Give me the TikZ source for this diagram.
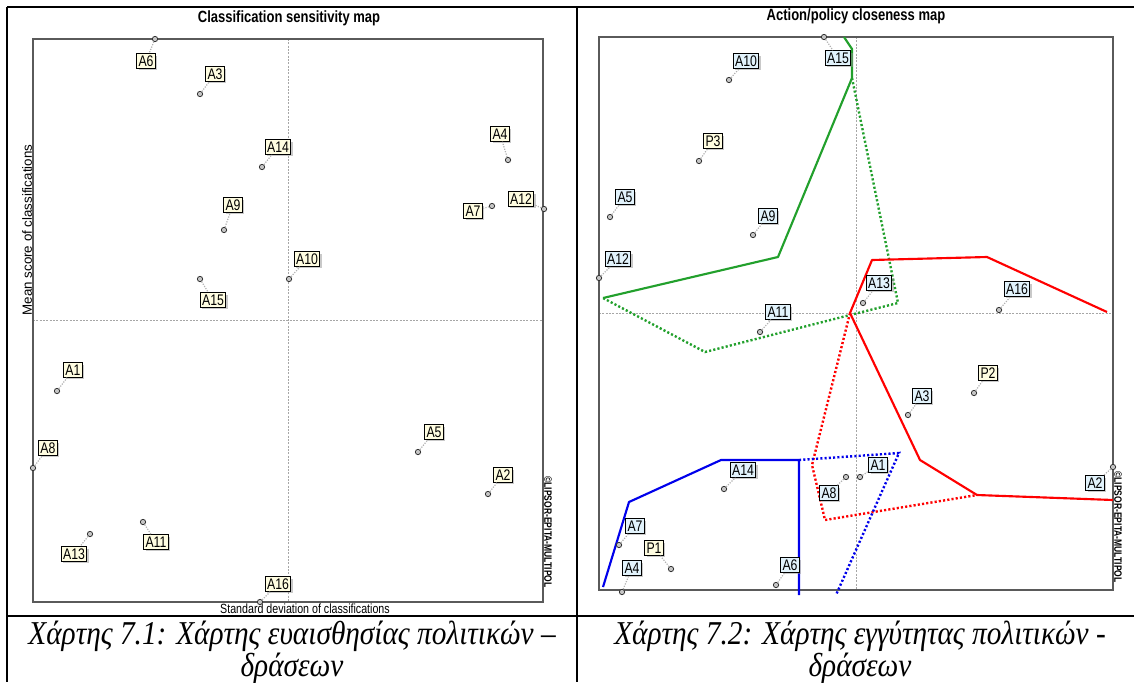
\documentclass[tikz,border=0pt]{standalone}
\usepackage{fontspec}
\setmainfont{Liberation Serif}
\newfontfamily\mapfont[FakeStretch=0.8]{Liberation Sans}
\newfontfamily\axisfont{Liberation Sans}
\newfontfamily\capfont[FakeStretch=0.88]{Liberation Serif}
\usetikzlibrary{shadows}

\definecolor{labelcream}{RGB}{255,253,225}
\definecolor{labelblue}{RGB}{226,243,252}
\definecolor{mapgreen}{RGB}{34,160,44}
\definecolor{mapred}{RGB}{255,0,0}
\definecolor{mapblue}{RGB}{0,0,235}
\definecolor{framegray}{RGB}{90,90,90}

\tikzset{
  maplabel/.style={draw=black, line width=0.8pt, inner sep=1.4pt,
    font=\mapfont\fontsize{11.5}{11.5}\selectfont,
    drop shadow={shadow xshift=1.5pt, shadow yshift=-1.5pt, fill=gray!85}},
  mappoint/.style={circle, draw=black!80, fill=gray!45, line width=0.6pt,
    inner sep=0pt, minimum size=4pt},
  leader/.style={draw=gray!60, densely dotted, line width=0.9pt},
  mapframe/.style={draw=framegray, line width=1.2pt},
  axisline/.style={draw=gray!70, line width=0.4pt, dash pattern=on 1.5pt off 1pt},
  solidpath/.style={line width=1.6pt, line join=round},
  dotpath/.style={line width=1.8pt, dash pattern=on 1.6pt off 1.6pt},
  maptitle/.style={font=\mapfont\bfseries\fontsize{12.2}{12.2}\selectfont},
  axistext/.style={font=\mapfont\fontsize{10}{10}\selectfont},
  stamp/.style={font=\mapfont\bfseries\fontsize{8}{8}\selectfont, rotate=-90},
  captext/.style={font=\capfont\itshape\fontsize{25}{20.5}\selectfont, align=center}
}

\begin{document}
\begin{tikzpicture}[x=0.75pt, y=-0.75pt]
  \useasboundingbox (0,0) rectangle (1134,682);

  % table rules
  \draw[line width=1pt] (7,7) -- (1134,7);
  \draw[line width=1pt] (7,7) -- (7,682);
  \draw[line width=1pt] (577,7) -- (577,682);
  \draw[line width=1pt] (7,616) -- (1134,616);

  % ---- left map: classification sensitivity
  \node[maptitle] (lefttitle) at (289,18) {Classification sensitivity map};
  \draw[axisline] (288,39) -- (288,602);
  \draw[axisline] (33,320) -- (543,320);
  \draw[mapframe] (33,39) rectangle (543,602);
  \node[font=\axisfont\fontsize{10}{10}\selectfont, rotate=90] (leftyaxis) at (27,230) {Mean score of classifications};
  \node[axistext] (leftxaxis) at (305,609) {Standard deviation of classifications};
  \node[stamp] (leftstamp) at (548,532) {©LIPSOR-EPITA-MULTIPOL};

  \foreach \lbl/\lx/\ly/\px/\py in {A6/146/61/155/39, A3/215/74/200/94,
      A14/278/147/262/167, A9/233/205/224/230, A10/307/259/289/279,
      A15/213/300/200/279, A4/500/134/508/160, A7/473/211/492/206,
      A12/521/199/544/209, A1/73/370/57/391, A8/48/448/33/468,
      A5/434/432/418/452, A2/503/475/488/494, A13/74/554/90/534,
      A11/156/542/143/522, A16/278/584/260/602}
  {
    \node[mappoint] (l\lbl p) at (\px,\py) {};
    \node[maplabel, fill=labelcream] (l\lbl) at (\lx,\ly) {\lbl};
    \draw[leader] (l\lbl p) -- (l\lbl);
  }

  % ---- right map: action/policy closeness
  \node[maptitle] (righttitle) at (856,16) {Action/policy closeness map};
  \draw[axisline] (856,37) -- (856,590);
  \draw[axisline] (599,313) -- (1113,313);
  \draw[mapframe] (599,37) rectangle (1113,590);
  \node[stamp] (rightstamp) at (1118,527) {©LIPSOR-EPITA-MULTIPOL};

  % policy hulls
  \draw[solidpath, mapgreen] (844,37) -- (852,49) -- (852,78) -- (778,257) -- (603,298);
  \draw[dotpath, mapgreen] (852,78) -- (898,303) -- (850,315) -- (705,352) -- (603,298);
  \draw[solidpath, mapred] (1107,312) -- (987,257) -- (872,260) -- (850,313)
    -- (920,460) -- (977,495) -- (1113,500);
  \draw[dotpath, mapred] (850,313) -- (812,465) -- (825,520) -- (977,495);
  \draw[solidpath, mapblue] (603,587) -- (629,502) -- (721,460) -- (799,460) -- (799,595);
  \draw[dotpath, mapblue] (799,460) -- (899,453) -- (836,595);

  \foreach \lbl/\lx/\ly/\px/\py/\fc in {A15/838/58/824/37/labelblue,
      A10/746/61/729/80/labelblue, P3/713/141/699/161/labelcream,
      A5/625/197/610/217/labelblue, A9/768/216/753/235/labelblue,
      A12/618/259/599/278/labelblue, A11/778/312/760/332/labelblue,
      A13/879/283/863/303/labelblue, A16/1017/289/999/310/labelblue,
      A3/922/396/908/415/labelblue, P2/988/373/974/393/labelcream,
      A14/743/470/724/489/labelblue, A8/829/493/846/477/labelblue,
      A1/878/465/860/477/labelblue, A7/635/526/619/545/labelblue,
      P1/654/548/671/569/labelcream, A4/632/568/622/592/labelblue,
      A6/790/565/776/585/labelblue, A2/1095/483/1113/467/labelblue}
  {
    \node[mappoint] (r\lbl p) at (\px,\py) {};
    \node[maplabel, fill=\fc] (r\lbl) at (\lx,\ly) {\lbl};
    \draw[leader] (r\lbl p) -- (r\lbl);
  }

  % captions
  \node[captext] (leftcap) at (292,652) {Χάρτης 7.1: Χάρτης ευαισθησίας πολιτικών –\\δράσεων};
  \node[captext] (rightcap) at (860,652) {Χάρτης 7.2: Χάρτης εγγύτητας πολιτικών -\\δράσεων};
\end{tikzpicture}
\end{document}
